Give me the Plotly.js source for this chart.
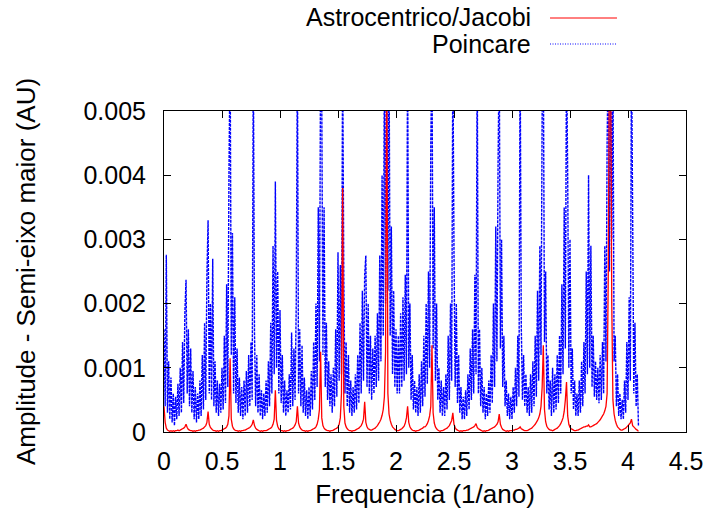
<!DOCTYPE html>
<html>
<head>
<meta charset="utf-8">
<script src="https://cdn.plot.ly/plotly-3.0.1.min.js"></script>
<style>html,body{margin:0;padding:0;background:#fff;}#chart{width:709px;height:515px;}</style>
</head>
<body>
<div id="chart"></div>
<script>
// Frequency grid of the spectrum (1/ano)
var freqStart = 0.0;
var freqStep = 0.01;
// amplitudes in units of 1e-5 AU
var amplitudeUnit = 1e-5;

var seriesNames = ["Astrocentrico/Jacobi", "Poincare"];

// Poincare (blue, dotted) amplitudes
var poincareAmp = [
160,40,276,30,110,20,85,15,60,10,55,
20,75,25,100,30,140,45,187,237,60,160,40,130,30,95,20,70,15,60,20,
80,25,120,35,170,50,245,330,60,200,50,270,40,110,30,80,
25,75,30,100,35,150,45,230,70,400,600,120,310,60,210,45,130,30,85,25,
70,20,80,25,95,30,120,40,140,50,600,155,40,120,30,90,25,65,20,60,
25,80,30,110,40,170,60,290,90,390,100,250,60,190,45,120,30,80,25,65,
30,90,35,155,40,130,50,198,600,60,160,40,135,30,85,25,65,20,70,
25,95,35,140,50,200,70,350,110,600,520,120,350,70,170,50,110,40,90,
30,100,40,160,55,280,80,260,90,600,240,60,140,40,120,30,80,25,70,30,
90,35,120,45,170,60,220,80,245,275,70,200,60,150,50,130,60,150,70,185,
80,275,110,400,150,600,200,600,220,600,150,320,90,220,70,160,60,150,60,185,
70,210,80,245,90,600,100,200,50,120,35,80,30,70,25,90,
30,110,40,150,55,200,75,250,100,450,600,130,350,80,200,50,100,30,80,25,70,25,
90,35,150,50,200,80,600,280,70,200,45,120,30,70,20,55,20,65,
25,90,35,130,50,160,60,245,90,600,60,160,40,100,30,70,20,60,25,
80,30,120,45,200,70,320,110,420,600,130,300,70,150,40,80,25,60,20,55,
20,70,30,100,40,150,55,600,165,50,120,40,90,30,70,25,90,30,
110,40,150,55,220,80,290,120,500,600,140,250,60,120,35,80,25,100,30,90,
35,120,45,150,60,230,90,350,130,600,400,100,300,60,130,35,80,25,60,
25,80,30,110,40,140,60,250,90,400,100,290,70,150,55,110,50,100,45,120,
50,140,60,290,110,450,600,250,600,300,600,110,150,40,90,25,60,20,50,
20,80,30,140,50,210,80,600,340,60,170,40,90,10
];

// Astrocentrico/Jacobi (red, solid) amplitudes
var jacobiAmp = [
40,15,6,3,
2,1,2,1,2,1,2,2,3,2,3,4,5,
6,8,12,7,4,
3,2,2,1,2,1,2,2,3,3,4,5,6,
8,10,15,32,12,7,5,
3,2,2,1,2,1,2,2,3,4,5,6,
8,12,25,115,20,9,5,
3,2,2,1,2,1,2,2,3,3,4,5,
6,7,9,12,19,10,6,4,
3,2,1,2,1,2,2,2,3,4,5,6,
8,12,20,65,18,9,5,
3,2,2,1,2,1,2,2,3,4,5,6,
8,11,16,40,14,8,5,
3,2,2,1,2,1,2,2,3,4,5,6,
8,12,20,35,125,22,10,6,
4,3,2,2,1,2,2,3,4,5,6,
8,12,22,60,380,40,14,8,5,
3,2,2,1,2,2,3,4,5,6,
8,10,14,20,47,15,8,5,
4,3,3,4,5,6,8,10,
13,16,20,26,35,55,125,600,60,28,18,12,8,6,
4,3,2,2,3,4,5,7,
9,14,22,40,15,8,5,
3,2,2,1,2,2,3,4,5,6,8,
8,10,13,18,25,40,135,30,14,8,
5,3,2,1,2,2,3,4,5,6,
8,10,14,18,30,12,7,4,
3,2,1,2,1,2,2,2,3,3,4,5,
6,7,8,10,13,7,5,4,
3,2,1,2,1,2,2,3,4,5,6,
7,8,10,12,16,28,12,7,4,
3,2,1,2,1,2,2,2,3,3,4,
4,5,6,8,5,4,
3,2,2,2,3,4,5,6,8,
10,12,15,18,22,28,40,70,135,35,16,9,6,
4,3,3,2,3,4,5,6,
8,10,13,17,22,32,50,78,25,12,7,5,
4,3,2,2,3,3,4,5,6,
7,8,8,9,9,11,8,
8,9,10,11,12,13,15,17,19,22,25,28,33,40,60,
250,600,600,200,50,28,18,12,8,6,
4,3,3,4,5,6,8,10,
12,14,20,10,8,6,4,3,1
];

var xTickVals = [0, 0.5, 1, 1.5, 2, 2.5, 3, 3.5, 4, 4.5];
var xTickText = ["0", "0.5", "1", "1.5", "2", "2.5", "3", "3.5", "4", "4.5"];
var yTickVals = [0, 0.001, 0.002, 0.003, 0.004, 0.005];
var yTickText = ["0", "0.001", "0.002", "0.003", "0.004", "0.005"];

function toXY(arr) {
  var xs = [], ys = [];
  for (var i = 0; i < arr.length; i++) {
    xs.push(freqStart + i * freqStep);
    ys.push(arr[i] * amplitudeUnit);
  }
  return {x: xs, y: ys};
}

var p = toXY(poincareAmp);
var j = toXY(jacobiAmp);

var FONT = "Liberation Sans, Arial, Helvetica, sans-serif";

var traces = [
  {x: p.x, y: p.y, type: "scatter", mode: "lines", name: seriesNames[1],
   line: {color: "#0000ff", width: 1.4, dash: "3px,1px", simplify: false}, showlegend: false},
  {x: j.x, y: j.y, type: "scatter", mode: "lines", name: seriesNames[0],
   line: {color: "#ff0000", width: 1.3, simplify: false}, showlegend: false}
];

var layout = {
  width: 709, height: 515,
  margin: {l: 164, r: 23, t: 111, b: 83, pad: 0},
  paper_bgcolor: "#ffffff", plot_bgcolor: "#ffffff",
  font: {family: FONT, size: 25, color: "#000"},
  showlegend: false,
  xaxis: {
    range: [0, 4.5], tickvals: xTickVals, ticktext: xTickText,
    ticks: "inside", ticklen: 7, tickwidth: 1, tickcolor: "#000",
    showline: true, linecolor: "#000", linewidth: 1, mirror: "ticks",
    showgrid: false, zeroline: false, ticklabelstandoff: 7,
    tickfont: {family: FONT, size: 25},
    title: {text: "Frequencia (1/ano)", font: {family: FONT, size: 26}, standoff: 10}
  },
  yaxis: {
    range: [0, 0.005], tickvals: yTickVals, ticktext: yTickText,
    ticks: "inside", ticklen: 7, tickwidth: 1, tickcolor: "#000",
    showline: true, linecolor: "#000", linewidth: 1, mirror: "ticks",
    showgrid: false, zeroline: false, ticklabelstandoff: 12,
    tickfont: {family: FONT, size: 25},
    title: {text: "Amplitude - Semi-eixo maior (AU)", font: {family: FONT, size: 26}, standoff: 40}
  },
  annotations: [
    {xref: "paper", yref: "paper", x: 0.705, y: 1.2928, xanchor: "right", yanchor: "middle",
     text: seriesNames[0], showarrow: false, borderpad: 0, font: {family: FONT, size: 25, color: "#000"}},
    {xref: "paper", yref: "paper", x: 0.705, y: 1.2087, xanchor: "right", yanchor: "middle",
     text: seriesNames[1], showarrow: false, borderpad: 0, font: {family: FONT, size: 25, color: "#000"}}
  ],
  shapes: [
    {type: "line", xref: "paper", yref: "paper", x0: 0.7395, x1: 0.8678, y0: 1.2897, y1: 1.2897,
     line: {color: "#ff0000", width: 1}},
    {type: "line", xref: "paper", yref: "paper", x0: 0.7395, x1: 0.8678, y0: 1.2087, y1: 1.2087,
     line: {color: "#0000ff", width: 1, dash: "1px,1.5px"}}
  ]
};

Plotly.newPlot("chart", traces, layout, {displayModeBar: false, staticPlot: true});
</script>
</body>
</html>
